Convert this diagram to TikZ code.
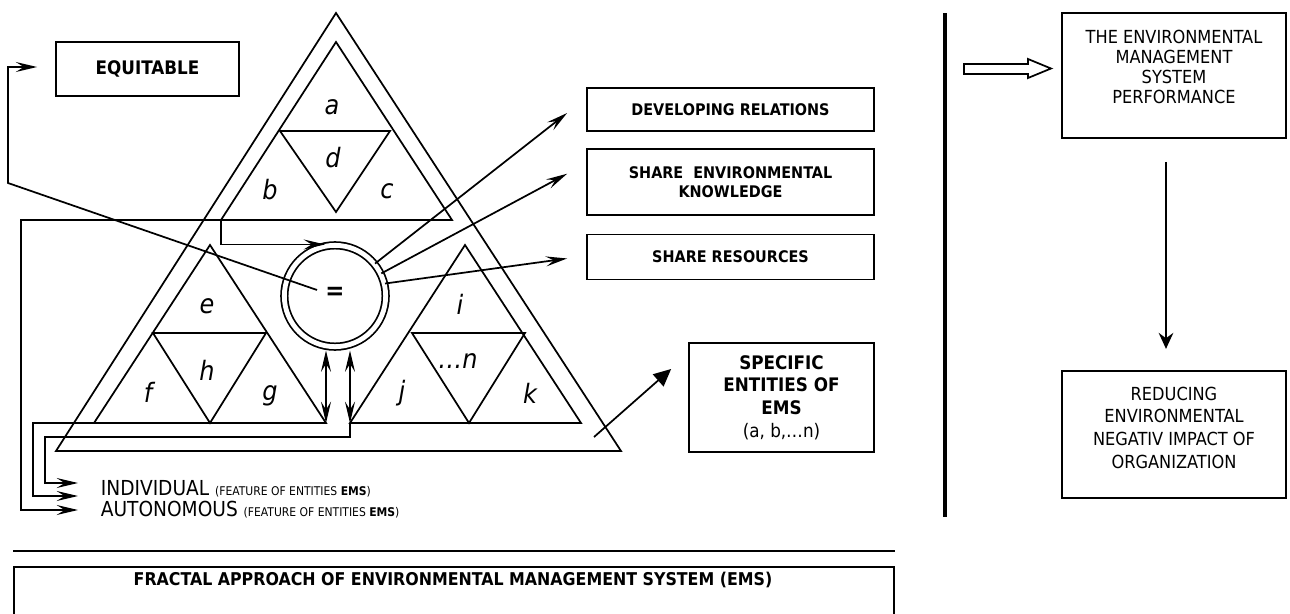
\documentclass[tikz,border=0pt]{standalone}
\usepackage{fontspec}
\setmainfont{DejaVu Sans Condensed}
\usetikzlibrary{positioning,arrows.meta,calc}

\begin{document}
\begin{tikzpicture}[x=0.75pt, y=-0.75pt, line width=1.3pt,
  >={Stealth[length=16pt,width=7.5pt,inset=6pt]},
  box/.style={draw, align=center, inner sep=0pt},
  lbl/.style={font=\fontsize{12}{14.25}\selectfont\bfseries},
  rtxt/.style={align=center, font=\fontsize{13.5}{15}\selectfont},
  ltr/.style={font=\fontsize{20}{20}\selectfont\itshape},
  feat/.style={anchor=base west, inner sep=0pt, font=\fontsize{15.5}{15.5}\selectfont}]
  \useasboundingbox (0,0) rectangle (1290,614);

  % big triangle
  \draw (56,451) -- (336,13) -- (621,451) -- cycle;
  % top small triangle a,b,c,d
  \coordinate (a1) at (221,220); \coordinate (a2) at (336,42); \coordinate (a3) at (452,220);
  \draw (a1) -- (a2) -- (a3) -- cycle;
  \draw (280,131) -- (390,131) -- (336,212) -- cycle;
  % left small triangle e,f,g,h
  \coordinate (e1) at (94,423); \coordinate (e2) at (210,245); \coordinate (e3) at (326,423);
  \draw (e1) -- (e2) -- (e3) -- cycle;
  \draw (153,333) -- (266,333) -- (210,423) -- cycle;
  % right small triangle i,j,k,n
  \coordinate (j1) at (350,423); \coordinate (j2) at (465,245); \coordinate (j3) at (581,423);
  \draw (j1) -- (j2) -- (j3) -- cycle;
  \draw (412,333) -- (525,333) -- (469,423) -- cycle;

  \node[ltr] (la) at (332,107) {a};
  \node[ltr] (ld) at (333,158) {d};
  \node[ltr] (lb) at (270,190) {b};
  \node[ltr] (lc) at (387,191) {c};
  \node[ltr] (le) at (207,306) {e};
  \node[ltr] (lh) at (207,370) {h};
  \node[ltr] (lf) at (148,392) {f};
  \node[ltr] (lg) at (270,396) {g};
  \node[ltr] (li) at (460,304) {i};
  \node[ltr] (ln) at (458,361) {…n};
  \node[ltr] (lj) at (402,393) {j};
  \node[ltr] (lk) at (530,393) {k};

  % the hub
  \node[draw, circle, double, double distance=3.6pt, minimum size=76pt, inner sep=0pt] (hub) at (335,296) {};
  \node[font=\fontsize{19}{19}\selectfont\bfseries] (eqsign) at (335,293) {=};

  % boxes on the left / middle
  \node[box, font=\fontsize{14}{16}\selectfont\bfseries, minimum width=137.25pt, minimum height=40.5pt] (equit) at (147.5,69) {EQUITABLE};
  \node[box, lbl, minimum width=215.25pt, minimum height=32.25pt] (dev) at (730.5,109.5) {DEVELOPING RELATIONS};
  \node[box, lbl, minimum width=215.25pt, minimum height=49.5pt, below=12pt of dev] (env) {SHARE~~ENVIRONMENTAL\\KNOWLEDGE};
  \node[box, lbl, minimum width=215.25pt, minimum height=33.75pt, below=13.5pt of env] (res) {SHARE RESOURCES};
  \node[box, font=\fontsize{14}{17}\selectfont, minimum width=138.75pt, minimum height=81.75pt] (spec) at (781.5,397.5)
    {\bfseries SPECIFIC\\\bfseries ENTITIES OF\\\bfseries EMS\\(a, b,…n)};

  \draw[->] (hub.39) -- ($(dev.west)+(-19,3.5)$);
  \draw[->] (hub.26) -- ($(env.west)+(-19,-8)$);
  \draw[->] (hub.14) -- ($(res.west)+(-19,1.5)$);
  \draw[->] ($(eqsign)+(-18,-3)$) -- (8,183) |- ($(equit.west)+(-18,-2)$);
  \draw[->] (a1) |- ($(hub.north)+(-10,0)$);
  \draw[<->] (e3) -- ($(e3 |- hub.south)+(0,3)$);
  \draw[<->] (j1) -- ($(j1 |- hub.south)+(0,3)$);
  \coordinate (sp0) at (594,437);
  \draw[-{Triangle[length=13pt,width=12pt]}] (sp0) -- ($(spec.west)+(-17,-28.5)$);

  % features of the entities
  \coordinate (indtip) at (78,483);
  \coordinate (midtip) at (78,496);
  \coordinate (auttip) at (78,510);
  \draw[->] (j1) -- ++(0,14) -| ($(indtip)+(-33,0)$) -- (indtip);
  \draw[->] (e1) -- (33,423) |- (midtip);
  \draw[->] (a1) -- (21,220) |- (auttip);
  \node[feat] (indiv) at (100,495) {INDIVIDUAL {\fontsize{9}{9}\selectfont(FEATURE OF ENTITIES \textbf{EMS})}};
  \node[feat] (auton) at (100,516) {AUTONOMOUS {\fontsize{9}{9}\selectfont(FEATURE OF ENTITIES \textbf{EMS})}};

  % title at the bottom
  \draw[line width=1.6pt] (13,551) -- (895,551);
  \draw (14,616) |- (894,567) -- (894,616);
  \node[font=\fontsize{13.2}{15}\selectfont\bfseries] (title) at (453,580) {FRACTAL APPROACH OF ENVIRONMENTAL MANAGEMENT SYSTEM (EMS)};

  % right part
  \draw[line width=3pt] (945,13) -- (945,517);
  \node[box, minimum width=168pt, minimum height=93.75pt] (perf) at (1174,75.5) {};
  \node[rtxt] (perftxt) at ($(perf)+(0,-9)$) {THE ENVIRONMENTAL\\MANAGEMENT\\SYSTEM\\PERFORMANCE};
  \node[box, minimum width=168pt, minimum height=95.25pt, below=173.25pt of perf] (red) {};
  \node[rtxt, font=\fontsize{13.5}{17}\selectfont] (redtxt) at ($(red)+(0,-6.5)$) {REDUCING\\ENVIRONMENTAL\\NEGATIV IMPACT OF\\ORGANIZATION};
  \draw (964,64) -- (1028,64) -- (1028,59) -- (1051,68.5) -- (1028,78) -- (1028,74) -- (964,74) -- cycle;
  \draw[-{Stealth[length=12pt,width=11pt,inset=4pt]}] ($(perf.south)+(-8,23)$) -- ($(red.north)+(-8,-21)$);
\end{tikzpicture}
\end{document}
